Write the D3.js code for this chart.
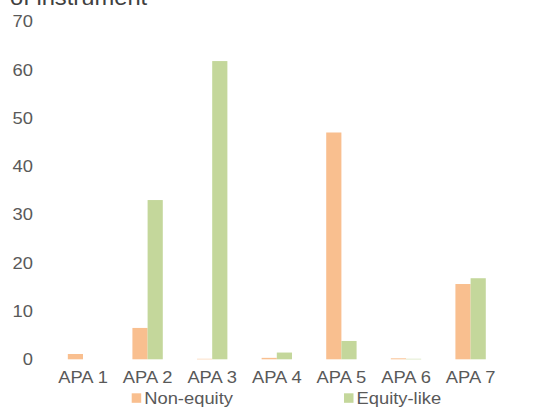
<!DOCTYPE html>
<html>
<head>
<meta charset="utf-8">
<script src="https://cdn.jsdelivr.net/npm/d3@7"></script>
<style>
  html, body { margin: 0; padding: 0; background: #fff; }
  svg { display: block; font-family: "Liberation Sans", Arial, sans-serif; }
</style>
</head>
<body>
<svg id="chart" width="549" height="407"></svg>
<script>
// Categories and series values
const categories = ["APA 1", "APA 2", "APA 3", "APA 4", "APA 5", "APA 6", "APA 7"];
const nonEquity  = [1.1, 6.5, 0.1, 0.3, 47.0, 0.2, 15.6];
const equityLike = [0.0, 33.0, 61.8, 1.4, 3.8, 0.1, 16.8];
const seriesNames = ["Non-equity", "Equity-like"];
const yTicks = [0, 10, 20, 30, 40, 50, 60, 70];
const titleText = "of instrument";

const colors = ["#F9BF8F", "#C4D79B"];
const textColor = "#595959";
const sx = 1.08; // horizontal text stretch

const svg = d3.select("#chart");
const plotLeft = 50.7, plotRight = 502.9, plotTop = 21.5, plotBottom = 359.3;

const x0 = d3.scaleBand().domain(categories).range([plotLeft, plotRight])
  .paddingInner(0.53).paddingOuter(0.265);
const x1 = d3.scaleBand().domain(seriesNames).range([0, x0.bandwidth()]);
const y = d3.scaleLinear().domain([0, 70]).range([plotBottom, plotTop]);

function label(g, x, yy, txt, anchor, size, color) {
  return g.append("text")
    .attr("transform", `translate(${x},${yy}) scale(${sx},1)`)
    .attr("text-anchor", anchor)
    .attr("font-size", size)
    .attr("fill", color)
    .text(txt);
}

// Title (last line of a wrapped title, running off the top edge)
label(svg, 10, 4.5, titleText, "start", 22, "#404040");

// Y axis labels
const yAxis = d3.axisLeft(y).tickValues(yTicks).tickSize(0).tickPadding(0);
const gy = svg.append("g").attr("transform", "translate(33,0)").call(yAxis);
gy.select(".domain").remove();
gy.selectAll("text")
  .attr("font-size", 17).attr("fill", textColor)
  .attr("font-family", "Liberation Sans, Arial, sans-serif")
  .attr("transform", `scale(${sx},1)`);

// Bars
const rows = categories.map((c, i) => ({ c, vals: [nonEquity[i], equityLike[i]] }));
const groups = svg.append("g").selectAll("g").data(rows).join("g")
  .attr("transform", d => `translate(${x0(d.c)},0)`);
groups.selectAll("rect")
  .data(d => d.vals.map((v, k) => ({ k, v })))
  .join("rect")
  .attr("x", d => x1(seriesNames[d.k]))
  .attr("width", x1.bandwidth())
  .attr("y", d => y(d.v))
  .attr("height", d => plotBottom - y(d.v))
  .attr("fill", d => colors[d.k]);

// Category labels
const xAxis = d3.axisBottom(x0).tickSize(0).tickPadding(0);
const gx = svg.append("g").attr("transform", `translate(0,${plotBottom})`).call(xAxis);
gx.select(".domain").remove();
gx.selectAll("text")
  .attr("font-size", 17).attr("fill", textColor)
  .attr("font-family", "Liberation Sans, Arial, sans-serif")
  .attr("dy", null).attr("y", 24)
  .attr("transform", `scale(${sx},1)`);

// Legend
const legendX = [131.7, 344];
seriesNames.forEach((name, k) => {
  svg.append("rect").attr("x", legendX[k]).attr("y", 393.3)
    .attr("width", 9.5).attr("height", 9.5).attr("fill", colors[k]);
  label(svg, legendX[k] + 12.5, 403.5, name, "start", 17, textColor);
});
</script>
</body>
</html>
